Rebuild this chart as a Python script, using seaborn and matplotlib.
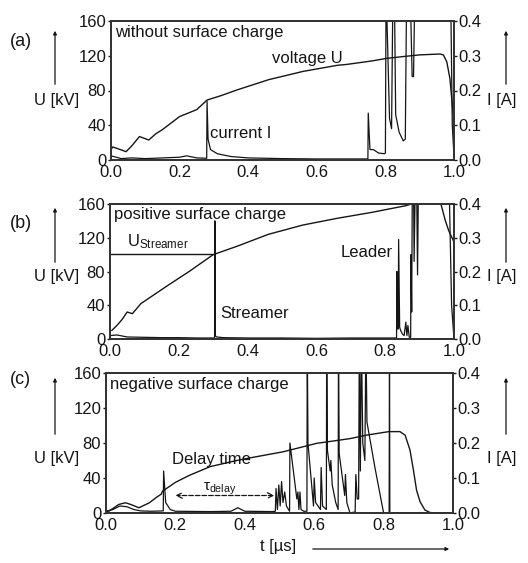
import numpy as np
import pandas as pd
import matplotlib
matplotlib.use("Agg")
import matplotlib.pyplot as plt
import seaborn as sns

# ---------------- data ----------------
# panel (a) without surface charge
tA_U = [0, .005, .02, .044, .06, .083, .11, .13, .15, .2, .25, .28, .32, .37, .46, .56,
        .66, .687, .76, .804, .85, .9, .959, .969, .979, .988, .998, 1.0]
UA = [12, 15, 13, 9.6, 16, 27, 23, 30, 35, 50, 58, 69, 74, 81, 92.5, 102,
      109, 110, 114, 117, 119, 121, 122, 121, 113, 94, 51, 20]
tA_I = [0, .03, .06, .1, .15, .2, .22, .25, .279, .28, .283, .29, .31, .35, .4, .5, .6, .7,
        .749, .75, .755, .765, .78, .798, .8, .802, .812, .818, .822, .826, .83, .84, .852,
        .858, .862, .872, .878, .882, .886, .99, .995, 1.0]
IA = [.012, .004, .006, .004, .006, .008, .012, .006, .005, .17, .06, .03, .018, .01, .006,
      .004, .003, .003, .003, .135, .03, .03, .02, .018, .02, .5, .12, .09, .5, .5, .13, .08,
      .055, .06, .5, .5, .24, .24, .5, .5, .1, .01]

# panel (b) positive surface charge
tB_U = [.005, .02, .035, .05, .065, .09, .13, .17, .23, .3, .37, .46, .56, .66, .76, .86,
        .9, .96, .975, .985, 1.0]
UB = [10, 16, 23, 32, 30, 42, 53, 64, 80, 100, 110, 124, 135, 143, 150, 158,
      163, 163, 140, 128, 115]
tB_I = [0, .02, .05, .1, .15, .2, .25, .3, .304, .305, .306, .31, .33, .4, .5, .6, .7, .8,
        .833, .834, .836, .838, .839, .842, .845, .85, .855, .86, .863, .866, .87, .874,
        .875, .877, .879, .882, .884, .888, .891, .894, .897, .9, .985, .993, 1.0]
IB = [.01, .012, .006, .005, .004, .004, .003, .003, .003, .35, .01, .006, .004, .003, .003,
      .002, .003, .003, .003, .2, .03, .03, .295, .035, .025, .015, .01, .05, .01, .04, .005,
      .005, .25, .08, .5, .5, .23, .5, .5, .19, .5, .5, .5, .1, 0.0]
U_streamer = 101
t_streamer = 0.3

# panel (c) negative surface charge
tC_U = [0, .008, .037, .056, .071, .095, .125, .144, .159, .163, .178, .2, .24, .3, .377,
        .415, .511, .607, .703, .751, .815, .847, .862, .876, .886, .895, .905, .919, .934,
        .95, 1.0]
UC = [2, 2, 9.8, 11.7, 9.8, 6, 11.7, 17.5, 21.5, 25, 29, 35, 43, 53, 60,
      63, 70, 79.6, 85, 89, 93, 93, 89, 72, 49, 26, 13, 3.4, .5, 0, 0]
tC_I = [0, .02, .04, .06, .08, .1, .13, .165, .166, .172, .185, .2, .3, .36, .38, .4, .48,
        .488, .49, .494, .498, .502, .506, .51, .515, .52, .529, .53, .54, .55, .553, .556,
        .559, .562, .57,
        .579, .58, .582, .598, .6, .604, .618, .62, .624, .635, .636, .638, .646, .648, .652,
        .662, .669, .67, .672, .688, .69, .694, .703, .718, .72, .724, .728, .73, .733, .736,
        .74, .746, .749, .752, .775, .8, .816, .817, .818, 1.0]
IC = [.005, .01, .02, .018, .01, .006, .005, .006, .12, .03, .01, .005, .004, .005, .015,
      .005, .004,
      .005, .07, .01, .08, .02, .09, .03, .06, .02, .005, .2, .12, .04, .06, .01,
      .06, .01, .005,
      .005, .5, .2, .02, .1, .03, .01, .13, .02, .01, .5, .18, .12, .15, .08,
      .03, .01, .5, .17, .05, .11, .03, 0, .003, .11, .04, .04, .5, .12, .5,
      .2, .15, .5, .26, .13, 0, 0, .5, 0, 0]
tau_start, tau_end, tau_level = 0.2, 0.485, 20

panel_titles = ["without surface charge", "positive surface charge", "negative surface charge"]
panel_tags = ["(a)", "(b)", "(c)"]
x_ticks = [0.0, 0.2, 0.4, 0.6, 0.8, 1.0]
u_ticks = [0, 40, 80, 120, 160]
i_ticks = [0.0, 0.1, 0.2, 0.3, 0.4]

# ---------------- style ----------------
sns.set_style("white")
plt.rcParams['font.family'] = ['Liberation Sans', 'DejaVu Sans']
plt.rcParams['mathtext.fontset'] = 'custom'
plt.rcParams['mathtext.rm'] = 'Liberation Sans'
plt.rcParams['mathtext.it'] = 'Liberation Sans'
INK = '#151515'
FS = 12

fig = plt.figure(figsize=(5.28, 5.63), dpi=100)
W, H = 528, 563
boxes = [(111, 454, 21, 160), (110, 454, 204, 339), (106, 453, 373, 513)]

U_sets = [(tA_U, UA), (tB_U, UB), (tC_U, UC)]
I_sets = [(tA_I, IA), (tB_I, IB), (tC_I, IC)]
axes = []
for k, (x0, x1, y0, y1) in enumerate(boxes):
    ax = fig.add_axes([x0 / W, 1 - y1 / H, (x1 - x0) / W, (y1 - y0) / H])
    ax2 = ax.twinx()
    dfU = pd.DataFrame({"t": U_sets[k][0], "U": U_sets[k][1]})
    dfI = pd.DataFrame({"t": I_sets[k][0], "I": I_sets[k][1]})
    sns.lineplot(data=dfU, x="t", y="U", ax=ax, color=INK, lw=1.0, estimator=None, sort=False)
    sns.lineplot(data=dfI, x="t", y="I", ax=ax2, color=INK, lw=0.9, estimator=None, sort=False)
    ax.set_xlim(0, 1)
    ax.set_ylim(0, 160)
    ax2.set_ylim(0, 0.4)
    ax.set_xticks(x_ticks)
    ax.set_xticklabels([f"{v:.1f}" for v in x_ticks])
    ax.set_yticks(u_ticks)
    ax.set_yticklabels([str(v) for v in u_ticks])
    ax2.set_yticks(i_ticks)
    ax2.set_yticklabels([f"{v:.1f}" for v in i_ticks])
    ax.set_xlabel("")
    ax.set_ylabel("")
    ax2.set_ylabel("")
    for a in (ax, ax2):
        a.tick_params(direction='out', length=2.5, width=1.0, pad=1, labelsize=FS,
                      colors=INK)
        for s in a.spines.values():
            s.set_linewidth(1.3)
            s.set_color('#333333')
    ax.text(0.012, 147, panel_titles[k], fontsize=FS, color=INK, va='center', ha='left')
    axes.append((ax, ax2))

# annotations panel (a)
axA = axes[0][0]
axA.text(0.47, 117, "voltage U", fontsize=FS, color=INK, va='center')
axA.text(0.29, 31, "current I", fontsize=FS, color=INK, va='center')

# annotations panel (b)
axB = axes[1][0]
axB.plot([0, t_streamer], [U_streamer, U_streamer], color=INK, lw=1.0)
axB.text(0.05, 115, r"U$_{\mathrm{Streamer}}$", fontsize=FS, color=INK, va='center')
axB.text(0.32, 30, "Streamer", fontsize=FS, color=INK, va='center')
axB.text(0.67, 103, "Leader", fontsize=FS, color=INK, va='center')

# annotations panel (c)
axC = axes[2][0]
axC.text(0.19, 61, "Delay time", fontsize=FS, color=INK, va='center')
axC.annotate("", xy=(tau_start, tau_level), xytext=(tau_end, tau_level),
             arrowprops=dict(arrowstyle='<->', linestyle='--', lw=0.9, color=INK,
                             shrinkA=0, shrinkB=0))
axC.text(0.28, 28, r"$\tau_{\mathrm{delay}}$", fontsize=FS - 1, color=INK, va='center')

# outer labels with arrows
label_y = [100, 277, 458]
arrow_span = [(28, 87), (205, 265), (375, 437)]
tag_y = [42, 223, 380]
for k in range(3):
    fy = 1 - label_y[k] / H
    fig.text(57 / W, fy, "U [kV]", fontsize=FS, color=INK, ha='center', va='center')
    fig.text(487 / W, fy, "I [A]", fontsize=FS, color=INK, ha='left', va='center')
    a0, a1 = arrow_span[k]
    for xp in (55, 506):
        fig.add_artist(matplotlib.patches.FancyArrowPatch(
            (xp / W, 1 - a1 / H), (xp / W, 1 - a0 / H), transform=fig.transFigure,
            arrowstyle='-|>', mutation_scale=5, lw=0.9, color=INK))
    fig.text(10 / W, 1 - tag_y[k] / H, panel_tags[k], fontsize=FS + 1, color=INK,
             ha='left', va='center')

fig.text(278 / W, 1 - 547 / H, "t [µs]", fontsize=FS, color=INK, ha='center', va='center')
fig.add_artist(matplotlib.patches.FancyArrowPatch(
    (310 / W, 1 - 549 / H), (452 / W, 1 - 549 / H), transform=fig.transFigure,
    arrowstyle='-|>', mutation_scale=5, lw=0.9, color=INK))

fig.savefig("out.png", dpi=100)
